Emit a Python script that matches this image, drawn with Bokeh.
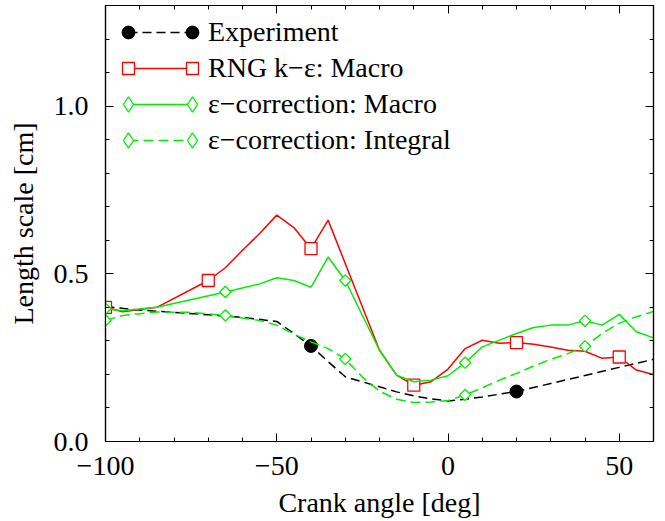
import math
from bokeh.plotting import figure
from bokeh.models import Legend, LegendItem, LinearAxis, FixedTicker, Range1d
from bokeh.embed import file_html
from bokeh.resources import INLINE

# ---- data ----
exp_x = [-100, -90, -80, -70, -60, -50, -45, -40, -35, -30, -25, -20, -15, -10, -5, 0, 5, 10, 20, 30, 40, 50, 60]
exp_y = [0.402, 0.392, 0.385, 0.378, 0.370, 0.358, 0.322, 0.285, 0.238, 0.193, 0.178, 0.163, 0.148, 0.136,
         0.127, 0.121, 0.126, 0.133, 0.149, 0.173, 0.197, 0.221, 0.245]
exp_mx = [-40, 20]

rng_x = [-100, -95, -85, -70, -65, -60, -55, -50, -45, -40, -35, -20, -15, -10, -5, 0, 5, 10, 15, 20,
         25, 30, 35, 40, 45, 50, 55, 60]
rng_y = [0.400, 0.387, 0.400, 0.480, 0.518, 0.570, 0.620, 0.675, 0.638, 0.575, 0.660, 0.272, 0.198, 0.168,
         0.178, 0.216, 0.277, 0.302, 0.293, 0.295, 0.290, 0.282, 0.272, 0.269, 0.248, 0.252, 0.213, 0.200]
rng_mx = [-100, -70, -40, -10, 20, 50]

ecm_x = [-100, -95, -85, -65, -55, -50, -45, -40, -35, -30, -20, -15, -10, -5, 0, 5, 10, 20, 25, 30,
         35, 40, 45, 50, 55, 60]
ecm_y = [0.396, 0.390, 0.400, 0.446, 0.470, 0.488, 0.480, 0.460, 0.550, 0.480, 0.272, 0.198, 0.178, 0.183,
         0.196, 0.235, 0.282, 0.322, 0.340, 0.347, 0.347, 0.360, 0.347, 0.379, 0.327, 0.309]
eci_x = [-100, -95, -85, -75, -65, -55, -50, -45, -40, -35, -30, -25, -20, -15, -10, -5, 0, 5, 10, 15,
         20, 25, 30, 35, 40, 45, 50, 55, 60]
eci_y = [0.361, 0.376, 0.386, 0.385, 0.376, 0.361, 0.347, 0.320, 0.297, 0.277, 0.246, 0.192, 0.150, 0.126,
         0.116, 0.118, 0.122, 0.139, 0.160, 0.183, 0.203, 0.225, 0.245, 0.262, 0.284, 0.322, 0.353, 0.372, 0.388]
ec_mx = [-100, -65, -30, 5, 40]

labels = ["Experiment", "RNG k\u2212\u03b5: Macro", "\u03b5\u2212correction: Macro", "\u03b5\u2212correction: Integral"]
x_major = [-100, -50, 0, 50]
x_minor = list(range(-100, 61, 10))
y_major = [0.0, 0.5, 1.0]
y_minor = [i / 10 for i in range(0, 14)]


def pick(xs, ys, mx):
    d = dict(zip(xs, ys))
    return mx, [d[v] for v in mx]


FONT = "Liberation Serif"
FS = "28px"
RED = "#ff0000"
GREEN = "#00ee00"

p = figure(width=665, height=521, x_range=Range1d(-100, 60), y_range=Range1d(0, 1.3),
           output_backend="svg", toolbar_location=None,
           min_border_left=105, min_border_right=12, min_border_top=5, min_border_bottom=80)
p.grid.visible = False
p.outline_line_color = "black"
p.outline_line_width = 1.2
p.background_fill_color = "white"


def style(ax, ticks, minor, labels_on=True):
    ax.ticker = FixedTicker(ticks=ticks, minor_ticks=minor)
    ax.major_tick_in = 8
    ax.major_tick_out = 0
    ax.minor_tick_in = 4
    ax.minor_tick_out = 0
    ax.axis_line_color = "black"
    ax.axis_line_width = 1.2
    ax.major_tick_line_color = "black"
    ax.minor_tick_line_color = "black"
    if labels_on:
        ax.major_label_text_font = FONT
        ax.major_label_text_font_size = FS
        ax.major_label_text_color = "black"
        ax.axis_label_text_font = FONT
        ax.axis_label_text_font_size = FS
        ax.axis_label_text_font_style = "normal"
        ax.axis_label_text_color = "black"
    else:
        ax.major_label_text_font_size = "0px"
        ax.major_label_standoff = 0
        ax.axis_label = None


xa = p.xaxis[0]
style(xa, x_major, x_minor)
xa.axis_label = "Crank angle [deg]"
xa.major_label_overrides = {-100: "\u2212100", -50: "\u221250", 0: "0", 50: "50"}
xa.major_label_standoff = 15
xa.axis_label_standoff = 9

ya = p.yaxis[0]
style(ya, y_major, y_minor)
ya.axis_label = "Length scale [cm]"
ya.major_label_overrides = {0.0: "0.0", 0.5: "0.5", 1.0: "1.0"}
ya.major_label_standoff = 17
ya.axis_label_standoff = 12

ra = LinearAxis()
style(ra, y_major, y_minor, labels_on=False)
p.add_layout(ra, "right")
ta = LinearAxis()
style(ta, x_major, x_minor, labels_on=False)
p.add_layout(ta, "above")

LW = 1.5
# Experiment
l_exp = p.line(exp_x, exp_y, line_color="black", line_width=LW, line_dash="9 5")
mx, my = pick(exp_x, exp_y, exp_mx)
m_exp = p.scatter(mx, my, marker="circle", size=13, fill_color="black", line_color="black")
# RNG
l_rng = p.line(rng_x, rng_y, line_color=RED, line_width=LW)
mx, my = pick(rng_x, rng_y, rng_mx)
m_rng = p.scatter(mx, my, marker="square", size=12, fill_color="white", line_color=RED, line_width=1.3)
# eps correction macro
l_ecm = p.line(ecm_x, ecm_y, line_color=GREEN, line_width=LW)
mx, my = pick(ecm_x, ecm_y, ec_mx)
p.scatter(mx, my, marker="square", angle=math.pi / 4, size=8, fill_color="white",
          line_color=GREEN, line_width=1.3)
# legend-only diamond sample (legend markers ignore the glyph angle); hidden in the plot
m_dia = p.scatter(mx, my, marker="diamond", size=10, fill_color="white", line_color=GREEN,
                  line_width=1.3, visible=False)
# eps correction integral
l_eci = p.line(eci_x, eci_y, line_color=GREEN, line_width=LW, line_dash="10 5")
mx, my = pick(eci_x, eci_y, ec_mx)
p.scatter(mx, my, marker="square", angle=math.pi / 4, size=8, fill_color="white",
          line_color=GREEN, line_width=1.3)

lines = [l_exp, l_rng, l_ecm, l_eci]
marks = [m_exp, m_rng, m_dia, m_dia]
msizes = [13, 12, 15, 15]

ROW = 36
TOP_OFF = 9
FRAME_H = 436
X_LEFT = 23
X_RIGHT = 87


def base_legend(items, x, y, gw, gh):
    return Legend(items=items, location=(x, y), glyph_width=gw, glyph_height=gh, label_height=gh,
                  spacing=0, padding=0, margin=0, background_fill_alpha=0, border_line_color=None,
                  inactive_fill_alpha=0)


leg_lines = base_legend([LegendItem(label=t, renderers=[r]) for t, r in zip(labels, lines)],
                        X_LEFT, FRAME_H - TOP_OFF - 4 * ROW, X_RIGHT - X_LEFT, ROW)
leg_lines.label_standoff = 16
leg_lines.label_text_font = FONT
leg_lines.label_text_font_size = FS
leg_lines.label_text_color = "black"
p.add_layout(leg_lines)

# marker samples at both ends of each legend line (marker legend size = 0.4 * glyph box)
for i, (r, s) in enumerate(zip(marks, msizes)):
    gw = int(round(s / 0.4))
    y = int(round(FRAME_H - TOP_OFF - (i + 1) * ROW + (ROW - gw) / 2))
    for xc in (X_LEFT, X_RIGHT):
        lg = base_legend([LegendItem(label=" ", renderers=[r])], int(round(xc - gw / 2)), y, gw, gw)
        lg.label_standoff = 0
        lg.label_text_font_size = "1px"
        p.add_layout(lg)

open("out.html", "w").write(file_html(p, INLINE))
